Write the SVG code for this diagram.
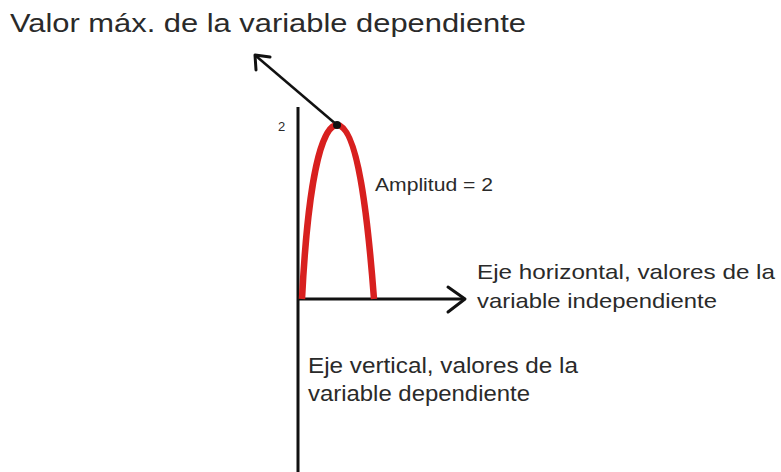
<svg xmlns="http://www.w3.org/2000/svg" width="781" height="472" viewBox="0 0 781 472">
<style>
text{font-family:"Liberation Sans",Arial,sans-serif;fill:#2a2a2a}
.ax{stroke:#111;stroke-width:3;fill:none}
.ah{stroke:#111;stroke-width:3;fill:none;stroke-linecap:round;stroke-linejoin:round}
</style>
<rect width="781" height="472" fill="#fff"/>
<g id="connectors">
<line class="ax" x1="298" y1="107" x2="298" y2="472"/>
<line class="ax" x1="298" y1="299" x2="465" y2="299"/>
<polyline class="ah" points="448,287 465,299 448,312"/>
<line x1="337" y1="125" x2="256" y2="56" stroke="#111" stroke-width="2.5"/>
<polyline class="ah" points="256,70 255,55 270,57" stroke-width="2.5"/>
</g>
<g id="curve">
<path d="M302,299 C306,220 316,126 337,125 C358,126 368,220 374,299" fill="none" stroke="#d8201f" stroke-width="6.5"/>
<circle cx="337" cy="125" r="4" fill="#111"/>
</g>
<g id="title"><text x="10" y="32" font-size="25" textLength="516" lengthAdjust="spacingAndGlyphs">Valor máx. de la variable dependiente</text></g>
<g id="tick"><text x="278" y="131" font-size="13">2</text></g>
<g id="amp"><text x="375" y="191" font-size="18" textLength="118" lengthAdjust="spacingAndGlyphs">Amplitud = 2</text></g>
<g id="hlabel"><text x="477" y="279" font-size="21" textLength="298" lengthAdjust="spacingAndGlyphs">Eje horizontal, valores de la</text><text x="477" y="308" font-size="21" textLength="240" lengthAdjust="spacingAndGlyphs">variable independiente</text></g>
<g id="vlabel"><text x="308" y="373" font-size="22" textLength="270" lengthAdjust="spacingAndGlyphs">Eje vertical, valores de la</text><text x="308" y="401" font-size="22" textLength="222" lengthAdjust="spacingAndGlyphs">variable dependiente</text></g>
</svg>
